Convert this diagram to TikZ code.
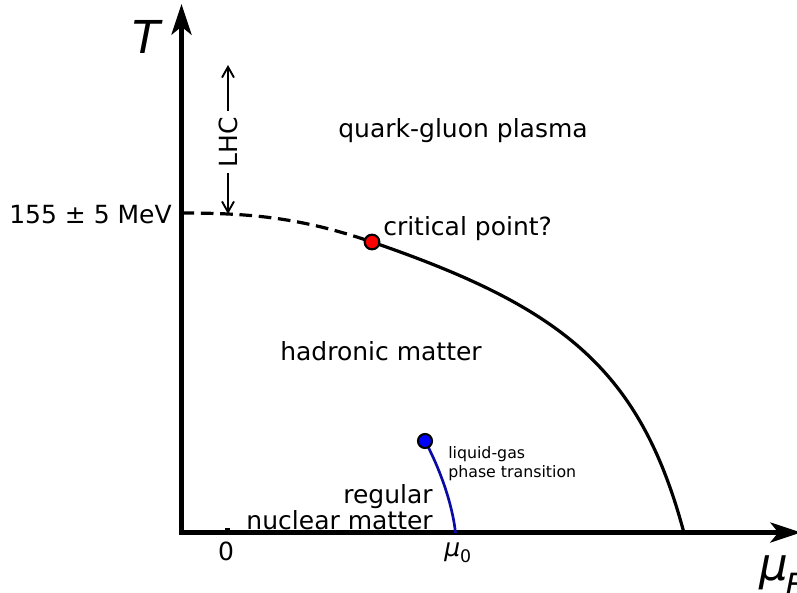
\documentclass[tikz,border=0pt]{standalone}
\usepackage{fontspec}
\setmainfont{DejaVu Sans}
\usetikzlibrary{arrows.meta}
\tikzset{
  lbl/.style={inner sep=0pt, font=\fontsize{18.75pt}{22pt}\selectfont},
  smalllbl/.style={inner sep=0pt, font=\fontsize{11.85pt}{14pt}\selectfont},
  biglbl/.style={inner sep=0pt, font=\fontsize{34pt}{38pt}\selectfont\itshape},
  axisline/.style={line width=3.4pt, -{Stealth[length=23pt, width=15pt, inset=6pt]}},
  boundary/.style={line width=2.4pt},
  lhcarrow/.style={line width=1.4pt, -{Straight Barb[length=8pt, width=9pt, line width=1.4pt]}},
  reddot/.style={circle, draw=black, fill=red, line width=1.6pt, minimum size=11pt, inner sep=0pt},
  bluedot/.style={circle, draw=black, fill=blue, line width=1.6pt, minimum size=10.5pt, inner sep=0pt},
}
\begin{document}
\begin{tikzpicture}[x=0.75pt, y=-0.75pt]
\useasboundingbox (0,0) rectangle (797,593);
\clip (0,0) rectangle (797,593);
% axes
\coordinate (Otail) at (181.5,534.8);
\coordinate (Ttop) at (181.5,4);
\coordinate (Hleft) at (179.2,532.5);
\coordinate (Mend) at (801,532.5);
\draw[axisline] (Otail) -- (Ttop);
\draw[axisline] (Hleft) -- (Mend);
% tick at 0
\coordinate (tick0a) at (227.5,531);
\coordinate (tick0b) at (227.5,527.5);
\draw[line width=3.5pt] (tick0a) -- (tick0b);
% phase boundary
\coordinate (Tc) at (181.5,213);
\coordinate (cpc) at (372,242);
\coordinate (Mmax) at (684,533);
\draw[boundary, dash pattern=on 9.5pt off 5pt] (Tc) .. controls (252,213) and (302,218) .. (cpc);
\draw[boundary] (cpc) .. controls (561,307) and (640,368) .. (Mmax);
% liquid-gas line
\coordinate (lgc) at (425,441);
\coordinate (mu0pt) at (455.5,533);
\draw[line width=2pt, draw={rgb,255:red,10;green,10;blue,165}] (lgc) .. controls (437,463) and (452,500) .. (mu0pt);
% dots
\node[reddot] (cpt) at (cpc) {};
\node[bluedot] (lgpt) at (lgc) {};
% LHC arrow
\node[lbl, rotate=90, inner xsep=4.5pt] (lhc) at (228,142) {LHC};
\coordinate (lhctop) at (228,65);
\coordinate (lhcbot) at (228,214);
\draw[lhcarrow] (lhc.east) -- (lhctop);
\draw[lhcarrow] (lhc.west) -- (lhcbot);
% labels
\node[biglbl, anchor=base west] (Tlbl) at (132,53) {T};
\node[biglbl, anchor=base west] (mulbl) at (759,580) {μ\hspace{-2pt}\raisebox{-12pt}{\fontsize{24pt}{26pt}\selectfont B}};
\node[lbl, anchor=base east] (tval) at (172,223) {155 ± 5 MeV};
\node[lbl, anchor=base] (qgp) at (463,137) {quark-gluon plasma};
\node[lbl, anchor=base west] (cp) at (383,235) {critical point?};
\node[lbl, anchor=base] (had) at (381,360) {hadronic matter};
\node[lbl, anchor=base east] (reg) at (433,503) {regular};
\node[lbl, anchor=base east] (nuc) at (433,529) {nuclear matter};
\node[smalllbl, anchor=base west] (lg1) at (448,458) {liquid-gas};
\node[smalllbl, anchor=base west] (lg2) at (448,477) {phase transition};
\node[lbl, anchor=base] (zero) at (226,560) {0};
\node[lbl, anchor=base west] (mu0) at (444,556) {\itshape μ\raisebox{-4.5pt}{\fontsize{13pt}{15pt}\selectfont\upshape 0}};
\end{tikzpicture}
\end{document}
